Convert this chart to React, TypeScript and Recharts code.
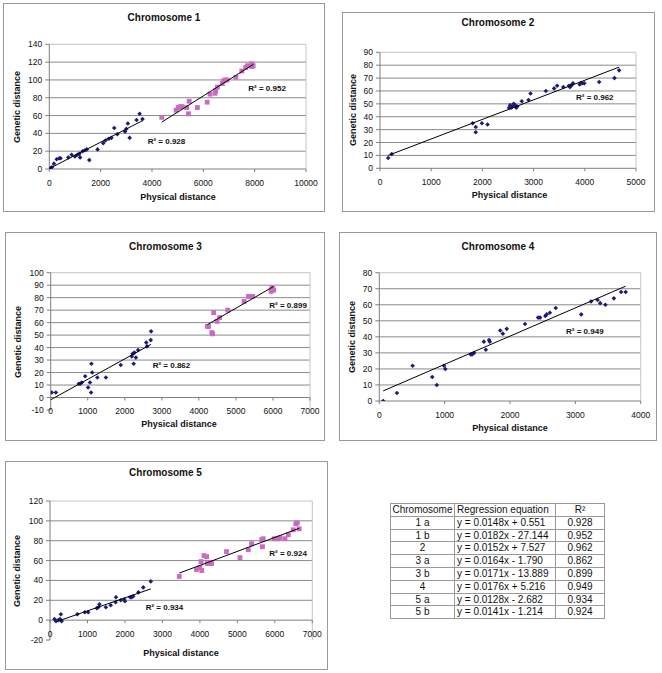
import React from 'react';
import { ScatterChart, Scatter, XAxis, YAxis, ReferenceLine, ReferenceDot } from 'recharts';

type Pt = [number, number];

// ---------- Chromosome 1 ----------
const chr1aPoints: Pt[] = [
  [0, 0], [30, 0.5], [60, 1], [100, 2], [180, 6], [290, 11], [390, 12], [440, 12], [740, 13], [870, 16],
  [1000, 14], [1090, 16], [1170, 17], [1200, 13], [1300, 20], [1390, 21], [1460, 22], [1558, 10], [1880, 22],
  [2100, 29], [2190, 32], [2320, 34], [2420, 35], [2530, 46], [2650, 39], [2950, 42], [3000, 45], [3060, 51],
  [3130, 35], [3400, 55], [3520, 62], [3630, 56],
];
const chr1bPoints: Pt[] = [
  [4380, 58], [4940, 66], [5020, 69], [5100, 70], [5170, 70], [5350, 69], [5420, 62], [5450, 76], [5770, 69],
  [6150, 75], [6260, 84], [6460, 85], [6480, 88], [6550, 92], [6740, 96], [6790, 99], [6850, 100], [6930, 100],
  [7270, 103], [7500, 110], [7650, 114], [7720, 116], [7880, 118], [7890, 115], [7940, 116],
];
const chr1aTrend: Pt[] = [[0, 0.5], [3640, 54.4]];
const chr1bTrend: Pt[] = [[4380, 52.6], [7950, 117.5]];
const chr1XTicks = [0, 2000, 4000, 6000, 8000, 10000];
const chr1YTicks = [0, 20, 40, 60, 80, 100, 120, 140];

// ---------- Chromosome 2 ----------
const chr2Points: Pt[] = [
  [160, 8], [230, 11], [1810, 35], [1870, 32], [1870, 28], [1990, 35], [2100, 34], [2520, 47], [2540, 49],
  [2560, 47], [2580, 48], [2610, 50], [2640, 49], [2660, 47], [2680, 48], [2770, 52], [2900, 53], [2940, 58],
  [3240, 60], [3400, 62], [3460, 64], [3580, 63], [3690, 64], [3710, 63], [3730, 64], [3750, 65], [3770, 66],
  [3900, 65], [3920, 66], [3960, 66], [3990, 66], [4280, 67], [4580, 70], [4670, 76],
];
const chr2Trend: Pt[] = [[160, 10], [4670, 78.5]];
const chr2XTicks = [0, 1000, 2000, 3000, 4000, 5000];
const chr2YTicks = [0, 10, 20, 30, 40, 50, 60, 70, 80, 90];

// ---------- Chromosome 3 ----------
const chr3aPoints: Pt[] = [
  [30, 4], [140, 4], [760, 11], [800, 11], [840, 12], [930, 17], [1010, 8], [1060, 12], [1100, 27], [1090, 4],
  [1120, 20], [1260, 16], [1490, 16], [1890, 26], [2190, 33], [2210, 35], [2240, 27], [2260, 36], [2300, 32],
  [2360, 38], [2580, 44], [2600, 41], [2700, 46], [2710, 53],
];
const chr3bPoints: Pt[] = [
  [4230, 57], [4260, 57], [4350, 52], [4370, 51], [4400, 68], [4490, 61], [4560, 64], [4780, 70], [5220, 77],
  [5340, 81], [5400, 81], [5450, 81], [5950, 85], [5970, 88], [6000, 87], [6020, 86],
];
const chr3aTrend: Pt[] = [[0, -1.8], [2710, 42.6]];
const chr3bTrend: Pt[] = [[4230, 58.4], [6020, 89]];
const chr3XTicks = [0, 1000, 2000, 3000, 4000, 5000, 6000, 7000];
const chr3YTicks = [-10, 0, 10, 20, 30, 40, 50, 60, 70, 80, 90, 100];

// ---------- Chromosome 4 ----------
const chr4Points: Pt[] = [
  [60, 0], [270, 5], [510, 22], [810, 15], [880, 10], [990, 22], [1010, 20], [1400, 29], [1420, 29], [1450, 30],
  [1600, 37], [1630, 32], [1680, 38], [1690, 37], [1850, 44], [1890, 42], [1950, 45], [2230, 48], [2430, 52],
  [2460, 52], [2540, 53], [2560, 54], [2610, 55], [2700, 58], [3090, 54], [3240, 62], [3340, 63], [3380, 61],
  [3460, 60], [3590, 64], [3700, 68], [3770, 68],
];
const chr4Trend: Pt[] = [[60, 6.3], [3770, 71.6]];
const chr4XTicks = [0, 1000, 2000, 3000, 4000];
const chr4YTicks = [0, 10, 20, 30, 40, 50, 60, 70, 80];

// ---------- Chromosome 5 ----------
const chr5aPoints: Pt[] = [
  [120, 1], [160, -1], [220, 0], [270, 1], [290, 6], [310, -1], [730, 6], [930, 8], [1020, 8], [1250, 12],
  [1290, 13], [1320, 16], [1490, 13], [1620, 15], [1750, 18], [1760, 23], [1890, 20], [1980, 21], [2000, 19],
  [2140, 23], [2180, 23], [2220, 24], [2360, 28], [2490, 33], [2690, 39],
];
const chr5bPoints: Pt[] = [
  [3450, 44], [3910, 51], [4000, 53], [4030, 59], [4050, 50], [4110, 65], [4180, 64], [4200, 57], [4290, 58],
  [4310, 57], [4710, 69], [5070, 63], [5290, 71], [5380, 77], [5650, 81], [5670, 74], [5690, 82], [5980, 82],
  [6070, 82], [6140, 83], [6270, 82], [6360, 86], [6490, 91], [6560, 97], [6600, 98], [6650, 92],
];
const chr5aTrend: Pt[] = [[250, -0.5], [2690, 31.5]];
const chr5bTrend: Pt[] = [[3450, 47.4], [6650, 92.5]];
const chr5XTicks = [0, 1000, 2000, 3000, 4000, 5000, 6000, 7000];
const chr5YTicks = [-20, 0, 20, 40, 60, 80, 100, 120];

// ---------- Table ----------
const tableHeaders = ['Chromosome', 'Regression equation', 'R²'];
const tableChromosomes = ['1 a', '1 b', '2', '3 a', '3 b', '4', '5 a', '5 b'];
const tableEquations = [
  'y = 0.0148x + 0.551', 'y = 0.0182x - 27.144', 'y = 0.0152x + 7.527', 'y = 0.0164x - 1.790',
  'y = 0.0171x - 13.889', 'y = 0.0176x + 5.216', 'y = 0.0128x - 2.682', 'y = 0.0141x - 1.214',
];
const tableR2 = ['0.928', '0.952', '0.962', '0.862', '0.899', '0.949', '0.934', '0.924'];

// ---------- styles ----------
const FONT = '"Liberation Sans", Arial, Helvetica, sans-serif';
const AXIS = '#7f7f7f';
const GRID = '#8a8a8a';
const LIGHT = '#c4c4c4';
const BOX = '#9a9a9a';
const NAVY = '#1c1c78';
const PINK = '#c86cc0';

const toPts = (a: Pt[]) => a.map(([x, y]) => ({ x, y }));

const Diamond = (p: any) => {
  const { cx, cy } = p;
  if (cx == null || cy == null) return <g />;
  const s = 2.3;
  return <polygon points={`${cx},${cy - s} ${cx + s},${cy} ${cx},${cy + s} ${cx - s},${cy}`} fill={NAVY} />;
};
const Square = (p: any) => {
  const { cx, cy } = p;
  if (cx == null || cy == null) return <g />;
  const s = 2.4;
  return <rect x={cx - s} y={cy - s} width={2 * s} height={2 * s} fill={PINK} />;
};
const NoShape = () => <g />;

const makeXTick = (zeroUp: number) => (props: any) => {
  const { x, y, payload } = props;
  const axisY = y - zeroUp;
  return (
    <g>
      <line x1={x} x2={x} y1={axisY} y2={axisY + 3} stroke={AXIS} />
      <text x={x} y={axisY + 13.5} textAnchor="middle" dominantBaseline="central" fontSize={8.5} fontFamily={FONT} fill="#111">
        {payload.value}
      </text>
    </g>
  );
};

interface Lbl { x: number; y: number; text: string }
interface Cfg {
  title: string;
  box: { left: number; top: number; w: number; h: number };
  plot: { left: number; top: number; w: number; h: number };
  xDomain: [number, number];
  xTicks: number[];
  yDomain: [number, number];
  yTicks: number[];
  a: Pt[];
  b?: Pt[];
  ta: Pt[];
  tb?: Pt[];
  labels: Lbl[];
  titlePos: [number, number];
  xLabelPos: [number, number];
  yLabelPos: [number, number];
}

const charts: Cfg[] = [
  {
    title: 'Chromosome 1',
    box: { left: 3, top: 3, w: 322, h: 209 },
    plot: { left: 46.3, top: 41.3, w: 256.7, h: 124.7 },
    xDomain: [0, 10000], xTicks: chr1XTicks, yDomain: [0, 140], yTicks: chr1YTicks,
    a: chr1aPoints, b: chr1bPoints, ta: chr1aTrend, tb: chr1bTrend,
    labels: [{ x: 7752, y: 90.6, text: 'R² = 0.952' }, { x: 3833, y: 31.4, text: 'R² = 0.928' }],
    titlePos: [164, 18.3], xLabelPos: [178, 196.7], yLabelPos: [17.3, 107],
  },
  {
    title: 'Chromosome 2',
    box: { left: 342, top: 12, w: 313, h: 200 },
    plot: { left: 38, top: 40.3, w: 256, h: 116 },
    xDomain: [0, 5000], xTicks: chr2XTicks, yDomain: [0, 90], yTicks: chr2YTicks,
    a: chr2Points, ta: chr2Trend,
    labels: [{ x: 3828, y: 54.8, text: 'R² = 0.962' }],
    titlePos: [498, 23.3], xLabelPos: [509.5, 195], yLabelPos: [353.3, 110],
  },
  {
    title: 'Chromosome 3',
    box: { left: 5, top: 232, w: 320, h: 209 },
    plot: { left: 45.7, top: 40.7, w: 259.3, h: 137.3 },
    xDomain: [0, 7000], xTicks: chr3XTicks, yDomain: [-10, 100], yTicks: chr3YTicks,
    a: chr3aPoints, b: chr3bPoints, ta: chr3aTrend, tb: chr3bTrend,
    labels: [{ x: 5901, y: 74.1, text: 'R² = 0.899' }, { x: 2753, y: 25.3, text: 'R² = 0.862' }],
    titlePos: [165.5, 246.7], xLabelPos: [179, 424.3], yLabelPos: [18.3, 341.5],
  },
  {
    title: 'Chromosome 4',
    box: { left: 339, top: 232, w: 318, h: 209 },
    plot: { left: 40.3, top: 40.7, w: 261.4, h: 128.3 },
    xDomain: [0, 4000], xTicks: chr4XTicks, yDomain: [0, 80], yTicks: chr4YTicks,
    a: chr4Points, ta: chr4Trend,
    labels: [{ x: 2857, y: 43.2, text: 'R² = 0.949' }],
    titlePos: [498, 246.7], xLabelPos: [510, 428.3], yLabelPos: [351.7, 336.8],
  },
  {
    title: 'Chromosome 5',
    box: { left: 5, top: 461, w: 323, h: 209 },
    plot: { left: 45, top: 40, w: 262.3, h: 139 },
    xDomain: [0, 7000], xTicks: chr5XTicks, yDomain: [-20, 120], yTicks: chr5YTicks,
    a: chr5aPoints, b: chr5bPoints, ta: chr5aTrend, tb: chr5bTrend,
    labels: [{ x: 5852, y: 67.3, text: 'R² = 0.924' }, { x: 2554, y: 12.5, text: 'R² = 0.934' }],
    titlePos: [165.5, 473.3], xLabelPos: [181, 653.3], yLabelPos: [16.7, 570.5],
  },
];

const textBase: React.CSSProperties = {
  position: 'absolute',
  fontFamily: FONT,
  fontWeight: 'bold',
  whiteSpace: 'nowrap',
  lineHeight: 1,
  color: '#111',
};

function Chart({ c }: { c: Cfg }) {
  const yw = 40;
  const xh = 20;
  const margin = {
    top: c.plot.top,
    left: c.plot.left - yw,
    right: c.box.w - c.plot.left - c.plot.w,
    bottom: c.box.h - c.plot.top - c.plot.h - xh,
  };
  const zeroUp = (c.plot.h * (0 - c.yDomain[0])) / (c.yDomain[1] - c.yDomain[0]);
  const inner = c.yTicks.filter((v) => v !== c.yDomain[0] && v !== c.yDomain[1]);
  return (
    <>
      <div style={{ position: 'absolute', left: c.box.left, top: c.box.top, width: c.box.w, height: c.box.h }}>
        <ScatterChart width={c.box.w} height={c.box.h} margin={margin}>
          <XAxis
            type="number"
            dataKey="x"
            domain={c.xDomain}
            ticks={c.xTicks}
            interval={0}
            height={xh}
            axisLine={zeroUp === 0 ? { stroke: AXIS } : false}
            tickLine={false}
            tickSize={0}
            tickMargin={0}
            tick={makeXTick(zeroUp)}
            allowDataOverflow
          />
          <YAxis
            type="number"
            dataKey="y"
            domain={c.yDomain}
            ticks={c.yTicks}
            interval={0}
            width={yw}
            axisLine={{ stroke: AXIS }}
            tickLine={{ stroke: AXIS }}
            tickSize={4}
            tickMargin={3}
            tick={{ fontSize: 8.5, fill: '#111', fontFamily: FONT }}
            allowDataOverflow
          />
          {inner.map((v) => (
            <ReferenceLine key={'g' + v} y={v} stroke={v === 0 && zeroUp > 0 ? AXIS : GRID} />
          ))}
          <ReferenceLine y={c.yDomain[1]} stroke={LIGHT} />
          <ReferenceLine x={c.xDomain[1]} stroke={LIGHT} />
          <Scatter data={toPts(c.a)} shape={Diamond} isAnimationActive={false} />
          {c.b && <Scatter data={toPts(c.b)} shape={Square} isAnimationActive={false} />}
          <Scatter data={toPts(c.ta)} line={{ stroke: '#000', strokeWidth: 1 }} shape={NoShape} isAnimationActive={false} />
          {c.tb && (
            <Scatter data={toPts(c.tb)} line={{ stroke: '#000', strokeWidth: 1 }} shape={NoShape} isAnimationActive={false} />
          )}
          {c.labels.map((l) => (
            <ReferenceDot
              key={l.text}
              x={l.x}
              y={l.y}
              r={0}
              shape={(p: any) => (
                <text x={p.cx} y={p.cy} dominantBaseline="central" fontSize={8} fontWeight="bold" fontFamily={FONT} fill="#111">
                  {l.text}
                </text>
              )}
            />
          ))}
        </ScatterChart>
      </div>
      <div
        style={{
          position: 'absolute',
          left: c.box.left,
          top: c.box.top,
          width: c.box.w,
          height: c.box.h,
          border: `1px solid ${BOX}`,
          boxSizing: 'border-box',
          pointerEvents: 'none',
        }}
      />
      <div style={{ ...textBase, fontSize: 10, left: c.titlePos[0], top: c.titlePos[1], transform: 'translate(-50%, -50%)' }}>
        {c.title}
      </div>
      <div style={{ ...textBase, fontSize: 9, left: c.xLabelPos[0], top: c.xLabelPos[1], transform: 'translate(-50%, -50%)' }}>
        Physical distance
      </div>
      <div
        style={{
          ...textBase,
          fontSize: 9,
          left: c.yLabelPos[0],
          top: c.yLabelPos[1],
          transform: 'translate(-50%, -50%) rotate(-90deg)',
        }}
      >
        Genetic distance
      </div>
    </>
  );
}

function RegressionTable() {
  const colW = [64, 101, 49];
  const rowH = 12.8;
  const rows: string[][] = [tableHeaders, ...tableChromosomes.map((ch, i) => [ch, tableEquations[i], tableR2[i]])];
  return (
    <div
      style={{
        position: 'absolute',
        left: 390,
        top: 503,
        borderLeft: '1px solid #999',
        borderTop: '1px solid #999',
        fontFamily: FONT,
        fontSize: 10,
        color: '#111',
      }}
    >
      {rows.map((r, ri) => (
        <div key={ri} style={{ display: 'flex', height: rowH }}>
          {r.map((cell, ci) => (
            <div
              key={ci}
              style={{
                width: colW[ci],
                height: rowH,
                boxSizing: 'border-box',
                borderRight: '1px solid #999',
                borderBottom: '1px solid #999',
                textAlign: ci === 1 ? 'left' : 'center',
                paddingLeft: ci === 1 ? 2 : 0,
                lineHeight: `${rowH - 1}px`,
                whiteSpace: 'nowrap',
                overflow: 'hidden',
              }}
            >
              {cell}
            </div>
          ))}
        </div>
      ))}
    </div>
  );
}

export default function App() {
  return (
    <div style={{ position: 'absolute', left: 0, top: 0, width: 662, height: 673, background: '#fff', overflow: 'hidden' }}>
      {charts.map((c) => (
        <Chart key={c.title} c={c} />
      ))}
      <RegressionTable />
    </div>
  );
}
